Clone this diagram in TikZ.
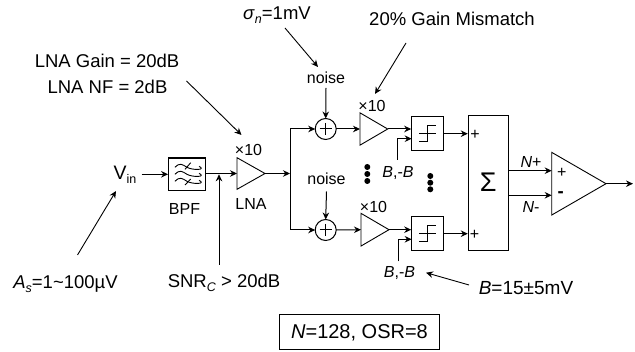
\documentclass[tikz,border=0pt]{standalone}
\usepackage{fontspec}
\setmainfont{Liberation Sans}
\usetikzlibrary{shapes.geometric,arrows.meta}
\newcommand{\subs}[1]{\raisebox{-3.5pt}{\fontsize{12.5}{12.5}\selectfont #1}}
\tikzset{
  x=1pt,y=-1pt,
  wire/.style={line width=1pt,-{Stealth[length=7pt,width=6.5pt]}},
  plainwire/.style={line width=1pt},
  note/.style={line width=0.9pt,-{Stealth[length=7pt,width=6.5pt]}},
  big/.style={inner sep=0,font=\fontsize{18.5}{20}\selectfont},
  small/.style={inner sep=0,font=\fontsize{16}{18}\selectfont},
  boxed/.style={draw,line width=1pt,inner sep=0,minimum width=#1},
  amp/.style n args={2}{draw,line width=0.9pt,isosceles triangle,isosceles triangle stretches,
     shape border rotate=0,inner sep=0,outer sep=0,anchor=lower side,minimum height=#1,minimum width=#2},
  summer/.style={draw,circle,line width=1pt,minimum size=21pt,inner sep=0,outer sep=0},
  dot/.style={fill,circle,inner sep=0,minimum size=6pt},
}
\begin{document}
\begin{tikzpicture}
\useasboundingbox (0,0) rectangle (635,352);
% labels
\node[big] (gain) at (107,61) {LNA Gain = 20dB};
\node[big] (nf) at (107.5,87) {LNA NF = 2dB};
\node[big] (sig) at (277,15) {\textit{σ}\subs{\textit{n}}=1mV};
\node[big] (mis) at (452,19) {20\% Gain Mismatch};
\node[small] (noiseA) at (326,78) {noise};
\node[small] (noiseB) at (326.5,179) {noise};
\node[big,font=\fontsize{19.5}{20}\selectfont] (vin) at (125,175) {V\subs{in}};
\node[small] (bpflab) at (184.5,209) {BPF};
\node[small] (lnalab) at (251,204) {LNA};
\node[small] (x1) at (248.5,149.5) {×10};
\node[small] (x2) at (372,105.5) {×10};
\node[small] (x3) at (373.5,206.5) {×10};
\node[big] (as) at (65.5,284) {\textit{A}\subs{\textit{s}}=1\textasciitilde 100µV};
\node[big] (snr) at (224,283) {SNR\subs{\textit{C}} > 20dB};
\node[small] (bb1) at (398,173) {\textit{B},-\textit{B}};
\node[small] (bb2) at (399.5,273) {\textit{B},-\textit{B}};
\node[big,font=\fontsize{19}{20}\selectfont] (bval) at (526,288) {\textit{B}=15±5mV};
\node[big,font=\fontsize{20}{22}\selectfont,draw,line width=1pt,minimum width=160pt,minimum height=35pt] (cfg) at (359.5,332.5) {\textit{N}=128, OSR=8};
\node[small] (np) at (531,161.5) {\textit{N}+};
\node[small] (nm) at (531,206.5) {\textit{N}-};
% blocks
\node[boxed=36.5pt,minimum height=32.7pt,line width=1.3pt] (bpf) at (187,174.3) {};
\node[amp={28pt}{31.6pt}] (lna) at (237,173.5) {};
\node[summer] (s1) at (325.7,129) {};
\node[summer] (s2) at (325.7,230) {};
\node[amp={27.7pt}{32.3pt}] (a1) at (360,129) {};
\node[amp={28pt}{32.7pt}] (a2) at (361,229.7) {};
\node[boxed=31.6pt,minimum height=34pt] (c1) at (427.5,133.7) {};
\node[boxed=31.6pt,minimum height=34pt] (c2) at (427.5,233.7) {};
\node[boxed=40pt,minimum height=134.7pt] (sum) at (488.3,183.3) {};
\node[inner sep=0,font=\fontsize{27}{27}\selectfont] (sigma) at (488.3,182) {Σ};
\node[amp={54.3pt}{62.7pt}] (out) at (551.7,183.7) {};
\node[small] (p1) at (475,135) {+};
\node[small] (p2) at (474.5,235) {+};
\node[small] (p3) at (561.7,173) {+};
\node[big] (m3) at (560.7,195) {\textbf{-}};
% symbols inside the summers
\draw[line width=1pt] (s1.center) ++(-6,0) -- ++(12,0) (s1.center) ++(0,-6) -- ++(0,12);
\draw[line width=1pt] (s2.center) ++(0,-6) -- ++(0,12) (s2.center) ++(-6,0) -- ++(12,0);
% comparator symbols
\foreach \c in {c1,c2}{
  \draw[line width=1.2pt] (\c.center) ++(-8.5,8) -- ++(8.5,0) -- ++(0,-16.5) -- ++(8.5,0);
  \draw[line width=1pt] (\c.center) ++(-8.5,0) -- ++(17,0);
}
% filter symbol
\foreach \d in {-7,0,7}{
  \draw[line width=0.9pt] (bpf.center) ++(-12,\d) .. controls ++(5,-5) and ++(-5,-3) .. ++(12,0) .. controls ++(5,3) and ++(8,4) .. ++(12,-1);
}
\draw[line width=0.9pt] (bpf.center) ++(-2,-5) -- ++(5.7,-6.6);
\draw[line width=0.9pt] (bpf.center) ++(-2,10.7) -- ++(5.7,-6);
% dots
\foreach \y/\n in {167/a,174/b,181/c}{\node[dot] (d\n) at (367.3,\y) {};}
\foreach \y/\n in {176/a,182.7/b,189.3/c}{\node[dot] (e\n) at (430.3,\y) {};}
% free ends
\coordinate (vinR) at (141.5,174.3);
\coordinate (branch) at (290,173.5);
\coordinate (top) at (290,129);
\coordinate (bot) at (290,230);
\coordinate (snrS) at (219,265);
\coordinate (snrT) at (219,174.3);
\coordinate (asS) at (77.5,255);
\coordinate (asT) at (116,191);
\coordinate (gainS) at (186.5,81);
\coordinate (gainT) at (241.5,135);
\coordinate (sigS) at (285,28);
\coordinate (sigT) at (318,67);
\coordinate (misS) at (406,43);
\coordinate (misT) at (375,94);
\coordinate (bS) at (469,285);
\coordinate (bT) at (426,272.7);
\coordinate (b1S) at (397.7,160);
\coordinate (b1M) at (397.7,138.7);
\coordinate (b1T) at (411.7,138.7);
\coordinate (b2S) at (398.5,261.5);
\coordinate (b2M) at (398.5,239.3);
\coordinate (b2T) at (411.7,239.3);
\coordinate (o) at (633,183.7);
% signal path
\draw[wire] (vinR) -- (bpf.west |- vinR);
\draw[wire] (bpf.east |- lna.lower side) -- (lna.lower side);
\draw[wire] (lna.apex) -- (branch);
\draw[plainwire] (top) -- (bot);
\draw[wire] (top) -- (s1.west);
\draw[wire] (bot) -- (s2.west);
\draw[wire] (s1.east) -- (a1.lower side);
\draw[wire] (s2.east) -- (a2.lower side);
\draw[wire] (a1.apex) -- (c1.west |- a1.apex);
\draw[wire] (a2.apex) -- (c2.west |- a2.apex);
\draw[wire] (b1S) -- (b1M) -- (b1T);
\draw[wire] (b2S) -- (b2M) -- (b2T);
\draw[wire] (c1.east) -- (sum.west |- c1.east);
\draw[wire] (c2.east) -- (sum.west |- c2.east);
\draw[wire] (sum.east |- 0,170.7) -- (out.lower side |- 0,170.7);
\draw[wire] (sum.east |- 0,195.3) -- (out.lower side |- 0,195.3);
\draw[wire] (out.apex) -- (o);
\draw[wire] (noiseA.south |- 0,88) -- (s1.north);
\draw[wire] (noiseB.south |- 0,191.5) -- (s2.north);
% annotations
\draw[note] (snrS) -- (snrT);
\draw[note] (asS) -- (asT);
\draw[note] (gainS) -- (gainT);
\draw[note] (sigS) -- (sigT);
\draw[note] (misS) -- (misT);
\draw[note] (bS) -- (bT);
\end{tikzpicture}
\end{document}
